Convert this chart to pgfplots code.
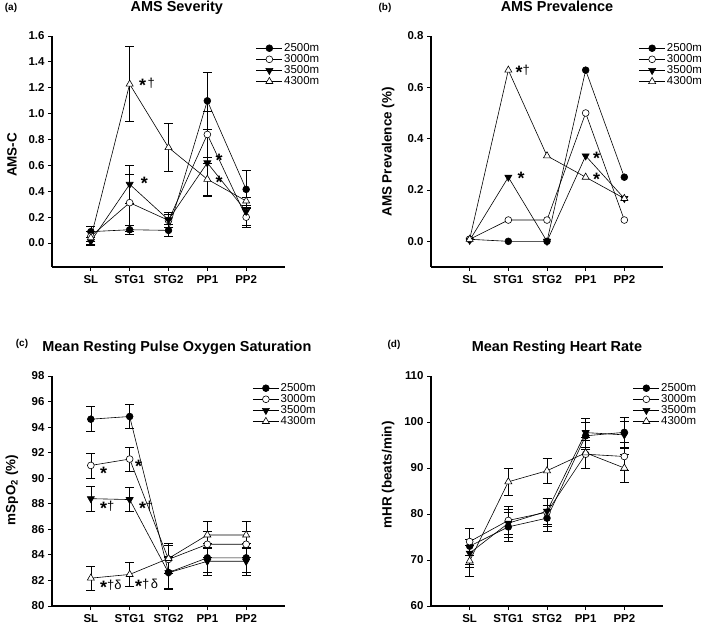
\documentclass[border=0pt]{standalone}
\usepackage{fontspec}
\setmainfont{Liberation Sans}
\usepackage{pgfplots}
\pgfplotsset{compat=1.18}
\newcommand{\st}{\raisebox{-0.38em}{\fontsize{18}{18}\selectfont\bfseries *}}
\newcommand{\dg}{{\fontsize{13}{13}\selectfont †}}
\newcommand{\dl}{{\fontsize{13}{13}\selectfont δ}}
\pgfplotsset{
  panel/.style={
    scale only axis,
    axis lines=left,
    axis line style={line width=1.4bp,-},
    xmin=0, xmax=6,
    xtick={1,2,3,4,5},
    xticklabels={SL,STG1,STG2,PP1,PP2},
    tick align=outside,
    major tick length=4bp,
    tick style={line width=0.8bp,black},
    ticklabel style={font=\fontsize{11.5}{12}\selectfont\bfseries},
    xticklabel style={yshift=-1bp},
    /pgf/number format/assume math mode=true,
    clip=false,
    every axis y label/.style={rotate=90,anchor=center,font=\fontsize{13.5}{14}\selectfont\bfseries},
    every axis title/.style={anchor=base,font=\fontsize{14.5}{15}\selectfont\bfseries},
    legend cell align=left,
    legend style={draw=none,fill=none,font=\fontsize{11.5}{12}\selectfont,
      anchor=north west,inner sep=0pt,row sep=-1.4bp,
      nodes={inner sep=1.5bp}},
    legend image code/.code={\draw[mark repeat=2,mark phase=2] plot coordinates {(0bp,0bp)(13bp,0bp)(26bp,0bp)};},
    error bars/y dir=both,
    error bars/y explicit,
    error bars/error mark options={rotate=90,black,mark size=4.5bp,line width=0.6bp},
    error bars/error bar style={black,line width=0.6bp},
  },
  sA/.style={black,line width=0.6bp,mark=*,mark size=3.4bp,mark options={fill=black,draw=black,solid}},
  sB/.style={black,line width=0.6bp,mark=*,mark size=3.4bp,mark options={fill=white,draw=black,solid}},
  sC/.style={black,line width=0.6bp,mark=triangle*,mark size=4.1bp,mark options={fill=black,draw=black,rotate=180,solid}},
  sD/.style={black,line width=0.6bp,mark=triangle*,mark size=4.1bp,mark options={fill=white,draw=black,solid}},
}
\begin{document}
\begin{tikzpicture}
\useasboundingbox (0,0) rectangle (709bp,626bp);
% panel letters
\node[anchor=base,font=\fontsize{10}{10}\selectfont\bfseries] at (11bp,615bp) {(a)};
\node[anchor=base,font=\fontsize{10}{10}\selectfont\bfseries] at (385bp,615bp) {(b)};
\node[anchor=base,font=\fontsize{10}{10}\selectfont\bfseries] at (22bp,279bp) {(c)};
\node[anchor=base,font=\fontsize{10}{10}\selectfont\bfseries] at (394bp,278bp) {(d)};

% (a) AMS Severity
\begin{axis}[panel, at={(52bp,359bp)}, anchor=south west, width=233bp, height=231bp,
  ymin=-0.185, ymax=1.6, ytick={0,0.2,...,1.6},
  yticklabel style={/pgf/number format/fixed,/pgf/number format/fixed zerofill,/pgf/number format/precision=1},
  ylabel={AMS-C}, ylabel style={at={(axis description cs:-0.172,0.485)}},
  title={AMS Severity}, title style={at={(axis description cs:0.536,1.104)}},
  legend style={at={(axis description cs:0.875,0.975)}}]
\addplot[sA] coordinates {(1,0.088)+-(0,0.04) (2,0.103)+-(0,0.036) (3,0.098)+-(0,0.046) (4,1.099)+-(0,0.22) (5,0.415)+-(0,0.148)};
\addplot[sB] coordinates {(1,0.052)+-(0,0.04) (2,0.312)+-(0,0.22) (3,0.175)+-(0,0.05) (4,0.839)+-(0,0.18) (5,0.20)+-(0,0.08)};
\addplot[sC] coordinates {(1,0.013)+-(0,0.03) (2,0.454)+-(0,0.145) (3,0.18)+-(0,0.06) (4,0.62)+-(0,0.26) (5,0.245)+-(0,0.11)};
\addplot[sD] coordinates {(1,0.041)+-(0,0.05) (2,1.228)+-(0,0.29) (3,0.738)+-(0,0.186) (4,0.493)+-(0,0.125) (5,0.325)+-(0,0.03)};
\legend{2500m,3000m,3500m,4300m}
\node[anchor=west] at (axis cs:2.15,1.22) {\st\,\dg};
\node[anchor=west] at (axis cs:2.2,0.46) {\st};
\node[anchor=west] at (axis cs:4.12,0.64) {\st};
\node[anchor=west] at (axis cs:4.12,0.47) {\st};
\end{axis}

% (b) AMS Prevalence
\begin{axis}[panel, at={(431bp,359bp)}, anchor=south west, width=232bp, height=231bp,
  ymin=-0.1, ymax=0.8, ytick={0,0.2,...,0.8},
  yticklabel style={/pgf/number format/fixed,/pgf/number format/fixed zerofill,/pgf/number format/precision=1},
  ylabel={AMS Prevalence (\%)}, ylabel style={at={(axis description cs:-0.185,0.498)}},
  title={AMS Prevalence}, title style={at={(axis description cs:0.543,1.104)}},
  legend style={at={(axis description cs:0.895,0.975)}}]
\addplot[sA] coordinates {(1,0.008) (2,0.0) (3,0.0) (4,0.667) (5,0.25)};
\addplot[sB] coordinates {(1,0.008) (2,0.083) (3,0.083) (4,0.5) (5,0.083)};
\addplot[sC] coordinates {(1,0.004) (2,0.25) (3,0.0) (4,0.333) (5,0.167)};
\addplot[sD] coordinates {(1,0.008) (2,0.667) (3,0.333) (4,0.25) (5,0.167)};
\legend{2500m,3000m,3500m,4300m}
\node[anchor=west] at (axis cs:2.1,0.66) {\st\dg};
\node[anchor=west] at (axis cs:2.15,0.245) {\st};
\node[anchor=west] at (axis cs:4.1,0.325) {\st};
\node[anchor=west] at (axis cs:4.1,0.24) {\st};
\end{axis}

% (c) Mean Resting Pulse Oxygen Saturation
\begin{axis}[panel, at={(52bp,20bp)}, anchor=south west, width=233bp, height=230bp,
  ymin=80, ymax=98, ytick={80,82,...,98},
  ylabel={mSpO\textsubscript{2} (\%)}, ylabel style={at={(axis description cs:-0.172,0.504)}},
  title={Mean Resting Pulse Oxygen Saturation}, title style={at={(axis description cs:0.536,1.106)}},
  legend style={at={(axis description cs:0.86,0.975)}}]
\addplot[sA] coordinates {(1,94.62)+-(0,0.98) (2,94.83)+-(0,0.95) (3,82.62)+-(0,1.3) (4,83.77)+-(0,1.1) (5,83.77)+-(0,1.1)};
\addplot[sB] coordinates {(1,91.0)+-(0,0.98) (2,91.5)+-(0,0.95) (3,83.65)+-(0,1.1) (4,84.83)+-(0,1.0) (5,84.83)+-(0,1.0)};
\addplot[sC] coordinates {(1,88.4)+-(0,0.97) (2,88.33)+-(0,0.95) (3,82.6)+-(0,1.2) (4,83.5)+-(0,1.08) (5,83.5)+-(0,1.08)};
\addplot[sD] coordinates {(1,82.18)+-(0,0.95) (2,82.47)+-(0,0.95) (3,83.72)+-(0,1.18) (4,85.56)+-(0,1.04) (5,85.56)+-(0,1.04)};
\legend{2500m,3000m,3500m,4300m}
\node[anchor=west] at (axis cs:1.15,90.4) {\st};
\node[anchor=west] at (axis cs:2.05,90.9) {\st};
\node[anchor=west] at (axis cs:1.15,87.7) {\st\dg};
\node[anchor=west] at (axis cs:2.15,87.7) {\st\dg};
\node[anchor=west] at (axis cs:1.15,81.5) {\st\dg\dl};
\node[anchor=west] at (axis cs:2.05,81.6) {\st\dg\,\dl};
\end{axis}

% (d) Mean Resting Heart Rate
\begin{axis}[panel, at={(431bp,20bp)}, anchor=south west, width=232bp, height=230bp,
  ymin=60, ymax=110, ytick={60,70,...,110},
  ylabel={mHR (beats/min)}, ylabel style={at={(axis description cs:-0.185,0.57)}},
  title={Mean Resting Heart Rate}, title style={at={(axis description cs:0.543,1.106)}},
  legend style={at={(axis description cs:0.87,0.975)}}]
\addplot[sA] coordinates {(1,73.0)+-(0,4.0) (2,77.2)+-(0,3.2) (3,79.1)+-(0,2.8) (4,97.0)+-(0,3.0) (5,97.75)+-(0,3.2)};
\addplot[sB] coordinates {(1,74.0)+-(0,3.0) (2,78.6)+-(0,3.0) (3,80.4)+-(0,3.0) (4,93.0)+-(0,3.0) (5,92.5)+-(0,3.0)};
\addplot[sC] coordinates {(1,71.5)+-(0,3.0) (2,78.0)+-(0,3.0) (3,80.6)+-(0,2.9) (4,97.7)+-(0,3.1) (5,97.2)+-(0,3.0)};
\addplot[sD] coordinates {(1,69.8)+-(0,3.3) (2,87.0)+-(0,3.0) (3,89.4)+-(0,2.8) (4,93.3)+-(0,3.3) (5,90.0)+-(0,3.0)};
\legend{2500m,3000m,3500m,4300m}
\end{axis}
\end{tikzpicture}
\end{document}
